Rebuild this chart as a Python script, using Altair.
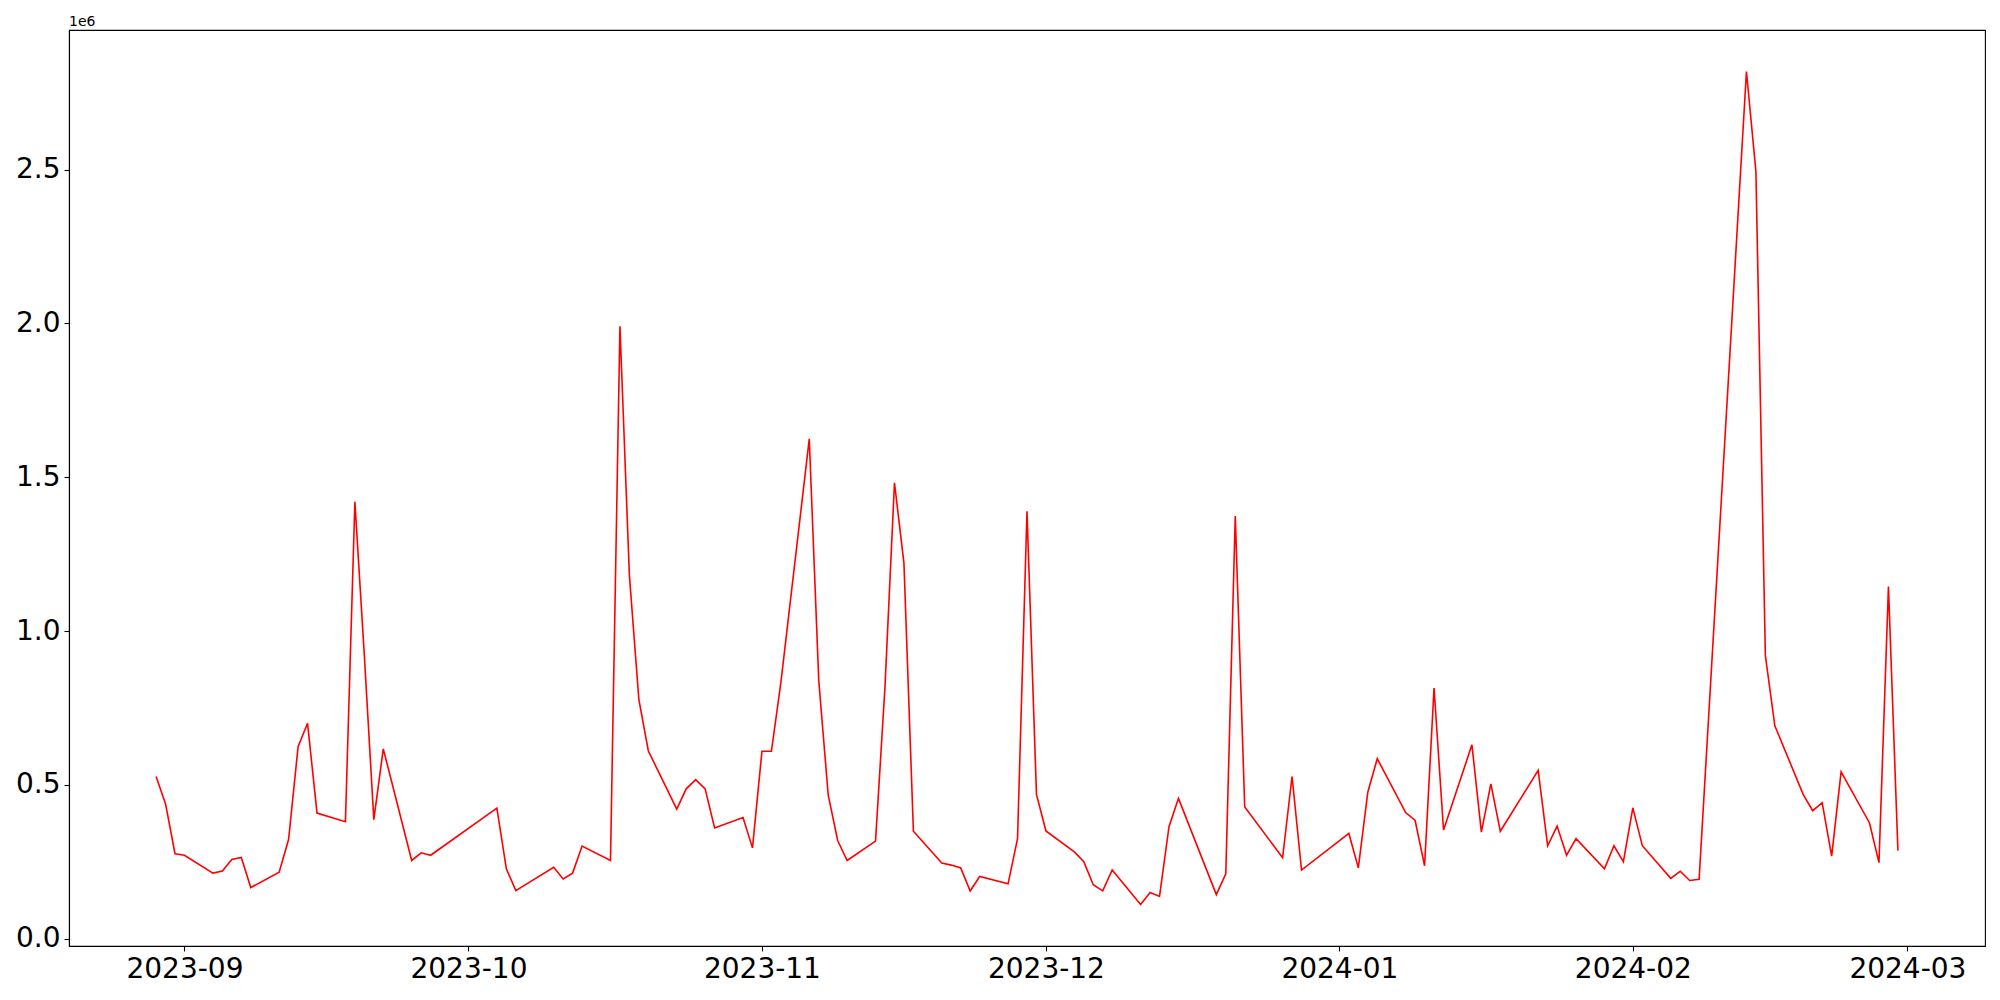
import altair as alt
import pandas as pd

dates = [
    "2023-08-29", "2023-08-30", "2023-08-31", "2023-09-01",
    "2023-09-04", "2023-09-05", "2023-09-06", "2023-09-07", "2023-09-08",
    "2023-09-11", "2023-09-12", "2023-09-13", "2023-09-14", "2023-09-15",
    "2023-09-18", "2023-09-19", "2023-09-20", "2023-09-21", "2023-09-22",
    "2023-09-25", "2023-09-26", "2023-09-27",
    "2023-10-04", "2023-10-05", "2023-10-06",
    "2023-10-10", "2023-10-11", "2023-10-12", "2023-10-13",
    "2023-10-16", "2023-10-17", "2023-10-18", "2023-10-19", "2023-10-20",
    "2023-10-23", "2023-10-24", "2023-10-25", "2023-10-26", "2023-10-27",
    "2023-10-30", "2023-10-31", "2023-11-01", "2023-11-02", "2023-11-03",
    "2023-11-06", "2023-11-07", "2023-11-08", "2023-11-09", "2023-11-10",
    "2023-11-13", "2023-11-14", "2023-11-15", "2023-11-16", "2023-11-17",
    "2023-11-20", "2023-11-21", "2023-11-22", "2023-11-23", "2023-11-24",
    "2023-11-27", "2023-11-28", "2023-11-29", "2023-11-30", "2023-12-01",
    "2023-12-04", "2023-12-05", "2023-12-06", "2023-12-07", "2023-12-08",
    "2023-12-11", "2023-12-12", "2023-12-13", "2023-12-14", "2023-12-15",
    "2023-12-19", "2023-12-20", "2023-12-21", "2023-12-22",
    "2023-12-26", "2023-12-27", "2023-12-28",
    "2024-01-02", "2024-01-03", "2024-01-04", "2024-01-05",
    "2024-01-08", "2024-01-09", "2024-01-10", "2024-01-11", "2024-01-12",
    "2024-01-15", "2024-01-16", "2024-01-17", "2024-01-18",
    "2024-01-22", "2024-01-23", "2024-01-24", "2024-01-25", "2024-01-26",
    "2024-01-29", "2024-01-30", "2024-01-31", "2024-02-01", "2024-02-02",
    "2024-02-05", "2024-02-06", "2024-02-07", "2024-02-08",
    "2024-02-13", "2024-02-14", "2024-02-15", "2024-02-16",
    "2024-02-19", "2024-02-20", "2024-02-21", "2024-02-22", "2024-02-23",
    "2024-02-26", "2024-02-27", "2024-02-28", "2024-02-29",
]

values = [
    527000, 438000, 276000, 271000,
    213000, 220000, 257000, 264000, 166000,
    216000, 323000, 624000, 700000, 408000,
    380000, 1420000, 920000, 387000, 617000,
    254000, 279000, 271000,
    424000, 227000, 156000,
    232000, 194000, 213000, 301000,
    254000, 1991000, 1180000, 777000, 610000,
    421000, 487000, 517000, 487000, 360000,
    394000, 295000, 609000, 609000, 832000,
    1625000, 840000, 467000, 319000, 254000,
    317000, 820000, 1482000, 1221000, 349000,
    246000, 239000, 230000, 155000, 202000,
    178000, 325000, 1389000, 469000, 350000,
    282000, 250000, 175000, 155000, 223000,
    111000, 150000, 137000, 364000, 456000,
    143000, 211000, 1374000, 428000,
    263000, 527000, 223000,
    342000, 230000, 476000, 585000,
    410000, 384000, 237000, 815000, 353000,
    630000, 346000, 503000, 349000,
    547000, 302000, 366000, 271000, 325000,
    227000, 302000, 250000, 425000, 302000,
    196000, 219000, 189000, 193000,
    2819000, 2494000, 920000, 692000,
    468000, 416000, 442000, 268000, 542000,
    376000, 247000, 1145000, 286000,
]

y_ticks = [0, 500000, 1000000, 1500000, 2000000, 2500000]
offset_label = ["1e6"]

df = pd.DataFrame({"date": dates, "value": values})

x_domain = [
    alt.DateTime(year=2023, month=8, date=19, hours=19, minutes=12, utc=True),
    alt.DateTime(year=2024, month=3, date=9, hours=4, minutes=48, utc=True),
]

line = alt.Chart(df).mark_line(color="#ff0000", strokeWidth=1.6).encode(
    x=alt.X(
        "date:T",
        scale=alt.Scale(type="utc", domain=x_domain, nice=False),
        axis=alt.Axis(
            format="%Y-%m",
            tickCount=alt.TimeIntervalStep(interval="month", step=1),
            title=None,
            labelFlush=False,
        ),
    ),
    y=alt.Y(
        "value:Q",
        scale=alt.Scale(domain=[-24000, 2954000], nice=False, zero=False),
        axis=alt.Axis(
            values=y_ticks,
            labelExpr="format(datum.value / 1000000, '.1f')",
            title=None,
        ),
    ),
)

offset_text = alt.Chart(pd.DataFrame({"t": offset_label})).mark_text(
    align="left", baseline="alphabetic", fontSize=14, font="DejaVu Sans", color="black"
).encode(
    text="t:N",
    x=alt.value(0),
    y=alt.value(-4),
)

chart = (
    alt.layer(line, offset_text)
    .properties(
        width=1916,
        height=916,
        autosize=alt.AutoSizeParams(type="none"),
        padding={"left": 61, "top": 22, "right": 7, "bottom": 46},
    )
    .configure_view(stroke="black", strokeWidth=1.1)
    .configure_axis(
        grid=False,
        domainColor="black",
        domainWidth=1.1,
        tickColor="black",
        tickWidth=1.1,
        tickSize=5,
        labelFont="DejaVu Sans",
        labelFontSize=28,
        labelColor="black",
        labelPadding=4,
    )
)

chart.save("out.html", embed_options={"renderer": "svg", "actions": False})
